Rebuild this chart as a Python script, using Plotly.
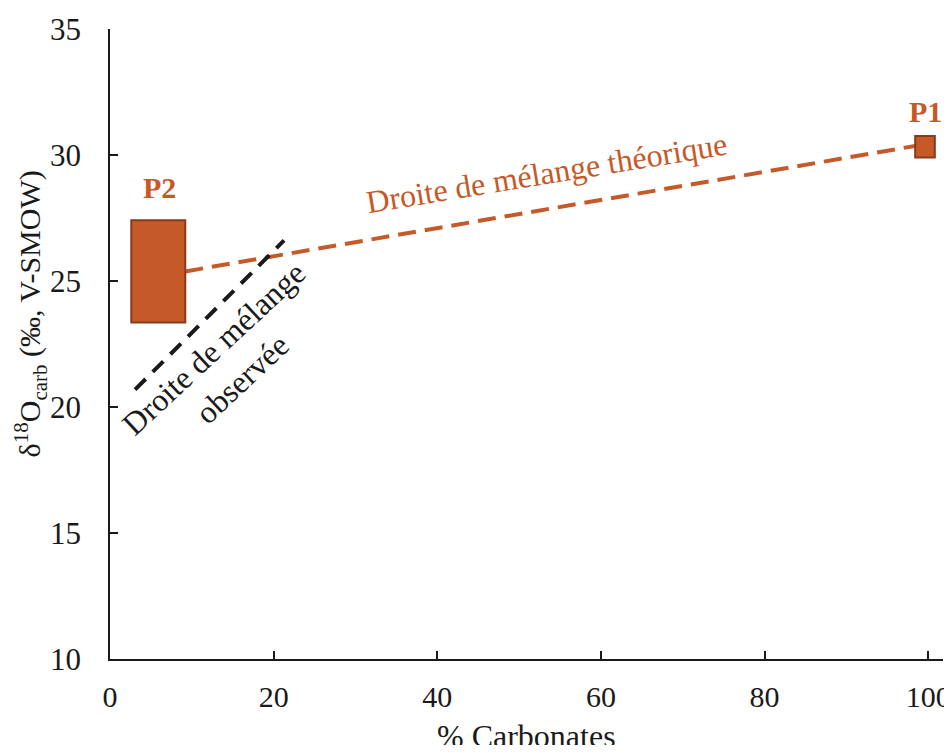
import plotly.graph_objects as go

# End-member boxes (ranges)
members = ["P1", "P2"]
carb_min = [98.4, 2.6]
carb_max = [100.8, 9.2]
d18o_min = [29.9, 23.35]
d18o_max = [30.75, 27.41]

# Mixing lines
theo_x = [9.2, 98.4]
theo_y = [25.38, 30.36]
obs_x = [3.06, 21.27]
obs_y = [20.69, 26.61]

x_ticks = [0, 20, 40, 60, 80, 100]
y_ticks = [10, 15, 20, 25, 30, 35]

ORANGE = "#C55A28"
EDGE = "#8A3A1C"
INK = "#1a1a1a"
FONT = "Liberation Serif"

fig = go.Figure()

fig.add_trace(go.Scatter(x=theo_x, y=theo_y, mode="lines",
                         line=dict(color=ORANGE, width=4, dash="18px,9px"),
                         hoverinfo="skip", showlegend=False))
fig.add_trace(go.Scatter(x=obs_x, y=obs_y, mode="lines",
                         line=dict(color=INK, width=4, dash="15px,10px"),
                         hoverinfo="skip", showlegend=False))

for i, m in enumerate(members):
    fig.add_shape(type="rect", xref="x", yref="y",
                  x0=carb_min[i], x1=carb_max[i], y0=d18o_min[i], y1=d18o_max[i],
                  fillcolor=ORANGE, line=dict(color=EDGE, width=2), layer="above")

# Labels
fig.add_annotation(x=99.7, y=31.74, text="<b>P1</b>", showarrow=False,
                   font=dict(family=FONT, size=30, color=ORANGE))
fig.add_annotation(x=6.1, y=28.72, text="<b>P2</b>", showarrow=False,
                   font=dict(family=FONT, size=30, color=ORANGE))
fig.add_annotation(x=53.3, y=29.3, text="Droite de mélange théorique", showarrow=False,
                   textangle=-9.3, xanchor="center", yanchor="middle",
                   font=dict(family=FONT, size=32, color=ORANGE))
fig.add_annotation(x=14.4, y=21.7, text="Droite de mélange<br>observée", showarrow=False,
                   textangle=-43, xanchor="center", yanchor="middle",
                   font=dict(family=FONT, size=32, color=INK))
# axis titles
fig.add_annotation(xref="paper", yref="paper", x=-0.096, y=0.547, xanchor="center", yanchor="middle",
                   text="δ<sup>18</sup>O<sub>carb</sub> (‰, V-SMOW)", showarrow=False, textangle=-90,
                   font=dict(family=FONT, size=30, color=INK))
fig.add_annotation(xref="paper", yref="paper", x=0.5, y=-0.122, xanchor="center", yanchor="middle",
                   text="% Carbonates", showarrow=False,
                   font=dict(family=FONT, size=32, color=INK))

fig.update_xaxes(range=[0, 101.8], tickvals=x_ticks, ticks="inside", ticklen=8, tickwidth=1.5,
                 tickcolor=INK, showline=True, linecolor=INK, linewidth=2,
                 showgrid=False, zeroline=False, ticklabelstandoff=10, automargin=False,
                 ticklabeloverflow="allow",
                 tickfont=dict(family=FONT, size=30, color=INK))
fig.update_yaxes(range=[10, 35], tickvals=y_ticks, ticks="inside", ticklen=8, tickwidth=1.5,
                 tickcolor=INK, showline=True, linecolor=INK, linewidth=1.5,
                 showgrid=False, zeroline=False, ticklabelstandoff=21, automargin=False,
                 ticklabeloverflow="allow",
                 tickfont=dict(family=FONT, size=31, color=INK))

# page body has an 8px margin, so the figure is sized/offset to fit the window
fig.update_layout(width=936, height=737, margin=dict(l=102, r=1, t=21, b=86),
                  plot_bgcolor="white", paper_bgcolor="white", showlegend=False)

fig.write_html("out.html")
